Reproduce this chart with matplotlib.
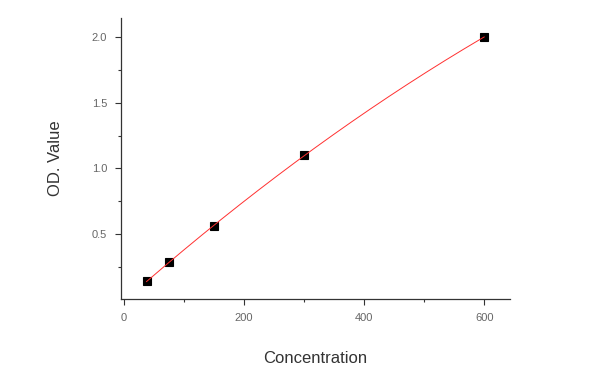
import numpy as np
import matplotlib.pyplot as plt
from matplotlib.ticker import MultipleLocator

# Datos de la curva estandar
concentracion = [37.5, 75, 150, 300, 600]
od_valor = [0.14, 0.285, 0.56, 1.10, 2.0]

# Ajuste cuadratico de los puntos
coef = np.polyfit(concentracion, od_valor, 2)
x_ajuste = np.linspace(min(concentracion), max(concentracion), 200)
y_ajuste = np.polyval(coef, x_ajuste)

plt.rcParams['font.family'] = ['Liberation Sans', 'DejaVu Sans']

fig = plt.figure(figsize=(6, 3.8), dpi=100)
ax = fig.add_axes([121/600, 1 - 299/380, 389/600, 281/380])

ax.plot(concentracion, od_valor, 's', markersize=5.5, markerfacecolor='black',
        markeredgecolor='black', markeredgewidth=0.8, zorder=2)
ax.plot(x_ajuste, y_ajuste, '-', color='#ff3030', linewidth=0.7, zorder=3)

ax.set_xlim(-5, 643)
ax.set_ylim(0.005, 2.145)
ax.xaxis.set_major_locator(MultipleLocator(200))
ax.xaxis.set_minor_locator(MultipleLocator(100))
ax.yaxis.set_minor_locator(MultipleLocator(0.25))
ax.set_yticks([0.5, 1.0, 1.5, 2.0])

ax.spines['top'].set_visible(False)
ax.spines['right'].set_visible(False)
for s in ['left', 'bottom']:
    ax.spines[s].set_color('#333333')
    ax.spines[s].set_linewidth(0.9)

ax.tick_params(which='major', length=4, width=0.8, color='#333333',
               labelsize=8, labelcolor='#666666', pad=6)
ax.tick_params(which='minor', length=2, width=0.8, color='#333333')

ax.set_xlabel('Concentration', fontsize=12, color='#333333', labelpad=20)
ax.set_ylabel('OD. Value', fontsize=12, color='#333333', labelpad=21)

fig.savefig('out.png', dpi=100)
